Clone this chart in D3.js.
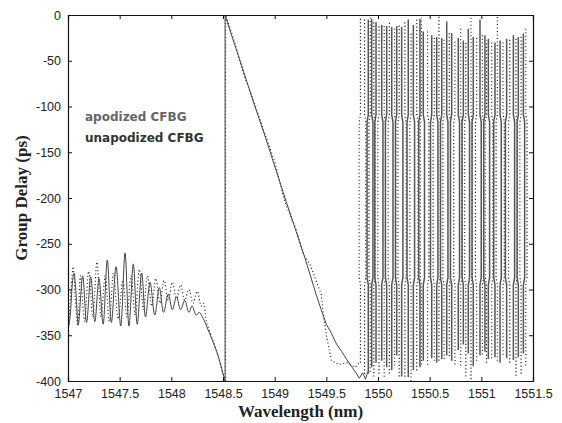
<!DOCTYPE html>
<html><head><meta charset="utf-8">
<script src="https://cdn.jsdelivr.net/npm/d3@7"></script>
<style>body{margin:0;background:#fff}svg{display:block}</style>
</head><body><svg id="c" width="562" height="423"></svg>
<script>
// ---------- data ----------
const xTicks = [1547, 1547.5, 1548, 1548.5, 1549, 1549.5, 1550, 1550.5, 1551, 1551.5];
const yTicks = [0, -50, -100, -150, -200, -250, -300, -350, -400];
const seriesNames = ["apodized CFBG", "unapodized CFBG"];

// solid curve: ripple region (before the jump)
const solidRipple = [
  [1547.00,-345],[1547.02,-330],[1547.045,-290],[1547.058,-282],[1547.075,-300],[1547.10,-338],
  [1547.142,-285],[1547.18,-336],[1547.22,-286],[1547.26,-335],[1547.30,-288],[1547.34,-338],
  [1547.38,-268],[1547.42,-336],[1547.465,-275],[1547.51,-340],[1547.552,-260],[1547.59,-340],
  [1547.632,-272],[1547.67,-338],[1547.713,-282],[1547.75,-330],[1547.794,-292],[1547.84,-328],
  [1547.884,-298],[1547.925,-325],[1547.97,-305],[1548.01,-322],[1548.05,-308],[1548.09,-322],
  [1548.13,-312],[1548.17,-325],[1548.20,-318],[1548.24,-328],[1548.27,-325],[1548.31,-332],
  [1548.37,-348],[1548.42,-362],[1548.455,-373],[1548.50,-392],[1548.52,-400]
];
// solid curve: jump and linear chirp
const solidChirp = [
  [1548.52,-400],[1548.52,0],
  [1548.60,-28],[1548.70,-62],[1548.80,-97],[1548.90,-130],[1549.00,-165],[1549.10,-200],
  [1549.20,-234],[1549.30,-268],[1549.40,-305],[1549.45,-322],[1549.50,-338],[1549.55,-348],
  [1549.60,-360],[1549.65,-368],[1549.70,-377],[1549.75,-385],[1549.78,-390],[1549.82,-397],
  [1549.85,-391],[1549.88,-398],[1549.90,-390]
];
// dotted curve
const dottedRipple = [
  [1547.00,-350],[1547.03,-300],[1547.05,-275],[1547.07,-310],[1547.095,-340],[1547.12,-285],
  [1547.16,-335],[1547.20,-280],[1547.24,-330],[1547.28,-270],[1547.32,-330],[1547.36,-285],
  [1547.40,-335],[1547.44,-282],[1547.485,-332],[1547.53,-290],[1547.57,-330],[1547.61,-285],
  [1547.65,-328],[1547.69,-278],[1547.73,-322],[1547.77,-285],[1547.81,-318],[1547.85,-288],
  [1547.89,-315],[1547.93,-290],[1547.97,-312],[1548.01,-292],[1548.05,-310],[1548.09,-295],
  [1548.13,-312],[1548.17,-300],[1548.21,-315],[1548.25,-302],[1548.29,-318],[1548.31,-315],
  [1548.34,-335],[1548.40,-355],[1548.45,-372],[1548.50,-392],[1548.525,-400]
];
const dottedChirp = [
  [1548.525,-400],[1548.525,0],
  [1548.60,-25],[1548.70,-65],[1548.80,-95],[1548.90,-128],[1549.00,-160],[1549.10,-205],
  [1549.20,-232],[1549.28,-262],[1549.34,-272],[1549.40,-290],[1549.45,-305],[1549.47,-325],
  [1549.50,-350],[1549.55,-378],[1549.62,-382],[1549.70,-380],[1549.78,-385],[1549.82,-380]
];

// phase-wrapped region: one entry per vertical stroke (wavelength, top value, bottom value)
const solidWrapX = [1549.906,1549.939,1549.981,1550.036,1550.084,1550.133,1550.181,1550.229,1550.293,1550.342,
  1550.406,1550.438,1550.520,1550.568,1550.617,1550.665,1550.713,1550.777,1550.826,1550.874,
  1550.922,1550.987,1551.035,1551.068,1551.132,1551.181,1551.245,1551.310,1551.358,1551.407];
const solidWrapTop = [-5,-4,-8,-11,-12,-13,-12,-13,-5,-11,-4,-18,-22,-24,-25,-7,-20,-25,-28,-15,
  -24,-5,-22,-26,-30,-28,-26,-22,-24,-20];
const solidWrapBot = [-392,-385,-380,-378,-385,-388,-372,-395,-396,-388,-385,-378,-375,-380,-376,-372,-378,-366,-360,-370,
  -384,-372,-368,-376,-374,-380,-375,-377,-374,-370];

const dottedWrapX = [1549.83,1549.87,1549.925,1549.96,1550.01,1550.06,1550.11,1550.16,1550.205,1550.26,
  1550.32,1550.375,1550.42,1550.48,1550.545,1550.59,1550.64,1550.69,1550.745,1550.80,
  1550.85,1550.90,1550.955,1551.01,1551.05,1551.10,1551.155,1551.21,1551.275,1551.335,1551.385,1551.43];
const dottedWrapTop = [-3,-5,-2,-8,-10,-12,-6,-15,-10,-8,-20,-5,-3,-18,-22,-2,-25,-20,-28,-15,-30,-3,-25,-22,
  -28,-30,-2,-30,-25,-26,-22,-15];
const dottedWrapBot = [-380,-395,-390,-395,-392,-398,-392,-385,-395,-398,-400,-390,-382,-385,-378,-380,-376,-374,
  -382,-385,-395,-398,-378,-372,-380,-375,-378,-372,-380,-395,-392,-385];
// levels (ps) where the wrapped strokes bend sideways
const wrapKinkLevels = [-112, -290];

// ---------- layout ----------
const W = 562, H = 423;
const m = {left: 68, right: 29, top: 15, bottom: 42};
const svg = d3.select("#c");
const x = d3.scaleLinear().domain([1547, 1551.5]).range([m.left, W - m.right]);
const y = d3.scaleLinear().domain([-400, 0]).range([H - m.bottom, m.top]);

const kinkS = 0.012;
function wrapPts(xs, tops, bots) {
  const pts = [];
  const [k1, k2] = wrapKinkLevels;
  xs.forEach((xv, i) => {
    const s = (i % 2 ? 1 : -1) * kinkS;
    const stroke = [[xv, bots[i]], [xv, k2 - 5], [xv + s, k2 + 3], [xv + s, k1 - 5], [xv, k1 + 3], [xv, tops[i]]];
    if (i % 2) stroke.reverse();
    pts.push(...stroke, null);
  });
  return pts;
}

const lineL = d3.line().defined(d => d).x(d => x(d[0])).y(d => y(d[1]));
const lineC = d3.line().x(d => x(d[0])).y(d => y(d[1])).curve(d3.curveCatmullRom.alpha(0.5));
svg.append("clipPath").attr("id", "pc").append("rect")
  .attr("x", m.left).attr("y", m.top).attr("width", W - m.left - m.right).attr("height", H - m.top - m.bottom);
const g = svg.append("g").attr("clip-path", "url(#pc)");

function drawSeries(ripple, chirp, wrap, style, wrapStyle) {
  [g.append("path").datum(ripple).attr("d", lineC),
   g.append("path").datum(chirp).attr("d", lineL)].forEach(p => { p.attr("fill", "none"); style(p); });
  const pw = g.append("path").datum(wrap).attr("d", lineL).attr("fill", "none");
  style(pw); wrapStyle(pw);
}
drawSeries(dottedRipple, dottedChirp, wrapPts(dottedWrapX, dottedWrapTop, dottedWrapBot),
  p => p.attr("stroke", "#222").attr("stroke-width", 1.1).attr("stroke-dasharray", "1.1,2.4"),
  p => p.attr("stroke-width", 1.2));
drawSeries(solidRipple, solidChirp, wrapPts(solidWrapX, solidWrapTop, solidWrapBot),
  p => p.attr("stroke", "#444").attr("stroke-width", 1),
  p => p.attr("stroke", "#555").attr("stroke-width", 1.5));

// ---------- axes ----------
const fmt = d => String(d);
const ax = svg.append("g").attr("transform", `translate(0,${H - m.bottom})`)
  .call(d3.axisBottom(x).tickValues(xTicks).tickSize(-4).tickPadding(6).tickFormat(fmt));
const axT = svg.append("g").attr("transform", `translate(0,${m.top})`)
  .call(d3.axisTop(x).tickValues(xTicks).tickSize(-4).tickFormat(""));
const ay = svg.append("g").attr("transform", `translate(${m.left},0)`)
  .call(d3.axisLeft(y).tickValues(yTicks).tickSize(-4).tickPadding(7).tickFormat(fmt));
const ayR = svg.append("g").attr("transform", `translate(${W - m.right},0)`)
  .call(d3.axisRight(y).tickValues(yTicks).tickSize(-4).tickFormat(""));
[ax, axT, ay, ayR].forEach(a => {
  a.select(".domain").attr("stroke", "#111").attr("stroke-width", 1.2);
  a.selectAll(".tick line").attr("stroke", "#111");
  a.selectAll("text").attr("font-family", "Liberation Sans, Arial, sans-serif")
    .attr("font-size", 12.5).attr("fill", "#222");
});
ax.selectAll("text").attr("dy", "0.9em");

svg.append("text").attr("x", (m.left + W - m.right) / 2).attr("y", 417)
  .attr("text-anchor", "middle").attr("font-family", "Liberation Serif, Times New Roman, serif")
  .attr("font-weight", "bold").attr("font-size", 17).attr("fill", "#222").text("Wavelength (nm)");
svg.append("text").attr("transform", `translate(27,${(m.top + H - m.bottom) / 2}) rotate(-90)`)
  .attr("text-anchor", "middle").attr("font-family", "Liberation Serif, Times New Roman, serif")
  .attr("font-weight", "bold").attr("font-size", 17).attr("fill", "#222").text("Group Delay (ps)");

// legend labels
svg.append("text").attr("x", 85).attr("y", 121).attr("font-family", "DejaVu Sans, sans-serif")
  .attr("font-weight", "bold").attr("font-size", 12).attr("fill", "#666").text(seriesNames[0]);
svg.append("text").attr("x", 85).attr("y", 142).attr("font-family", "DejaVu Sans, sans-serif")
  .attr("font-weight", "bold").attr("font-size", 12).attr("fill", "#333").text(seriesNames[1]);
</script></body></html>
